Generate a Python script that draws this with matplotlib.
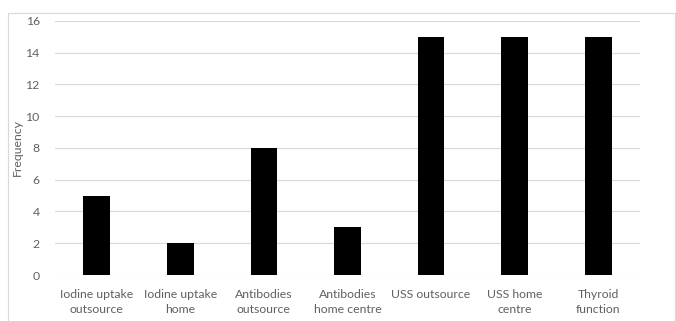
import matplotlib.pyplot as plt
from matplotlib.patches import Rectangle

# frequency of each investigation
tests = ['Iodine uptake\noutsource', 'Iodine uptake\nhome', 'Antibodies\noutsource',
         'Antibodies\nhome centre', 'USS outsource', 'USS home\ncentre', 'Thyroid\nfunction']
freq = [5, 2, 8, 3, 15, 15, 15]

plt.rcParams['font.family'] = ['Lato', 'DejaVu Sans']
grey = '#606060'

fig = plt.figure(figsize=(6.76, 3.21), dpi=100)
ax = fig.add_axes([0.0814, 0.1433, 0.8653, 0.792])

ax.bar(range(len(tests)), freq, width=0.32, color='black', zorder=3)

ax.set_xlim(-0.5, len(tests) - 0.5)
ax.set_ylim(0, 16)
ax.set_yticks(range(0, 17, 2))
ax.set_xticks(range(len(tests)))
ax.set_xticklabels(tests, fontsize=8.8, color=grey, linespacing=1.45)
ax.tick_params(axis='y', labelsize=8.8, labelcolor=grey, length=0, pad=11)
ax.tick_params(axis='x', length=0, pad=10)
ax.grid(axis='y', color='#d9d9d9', linewidth=0.8, zorder=0)
for s in ax.spines.values():
    s.set_visible(False)
ax.set_ylabel('Frequency', fontsize=8.8, color=grey, labelpad=2)

# light frame round the chart
fig.patches.append(Rectangle((8 / 676, -0.01), 667 / 676, (321 - 13) / 321 + 0.01,
                             transform=fig.transFigure, fill=False,
                             edgecolor='#d9d9d9', linewidth=0.8))

fig.savefig('out.png', dpi=100)
